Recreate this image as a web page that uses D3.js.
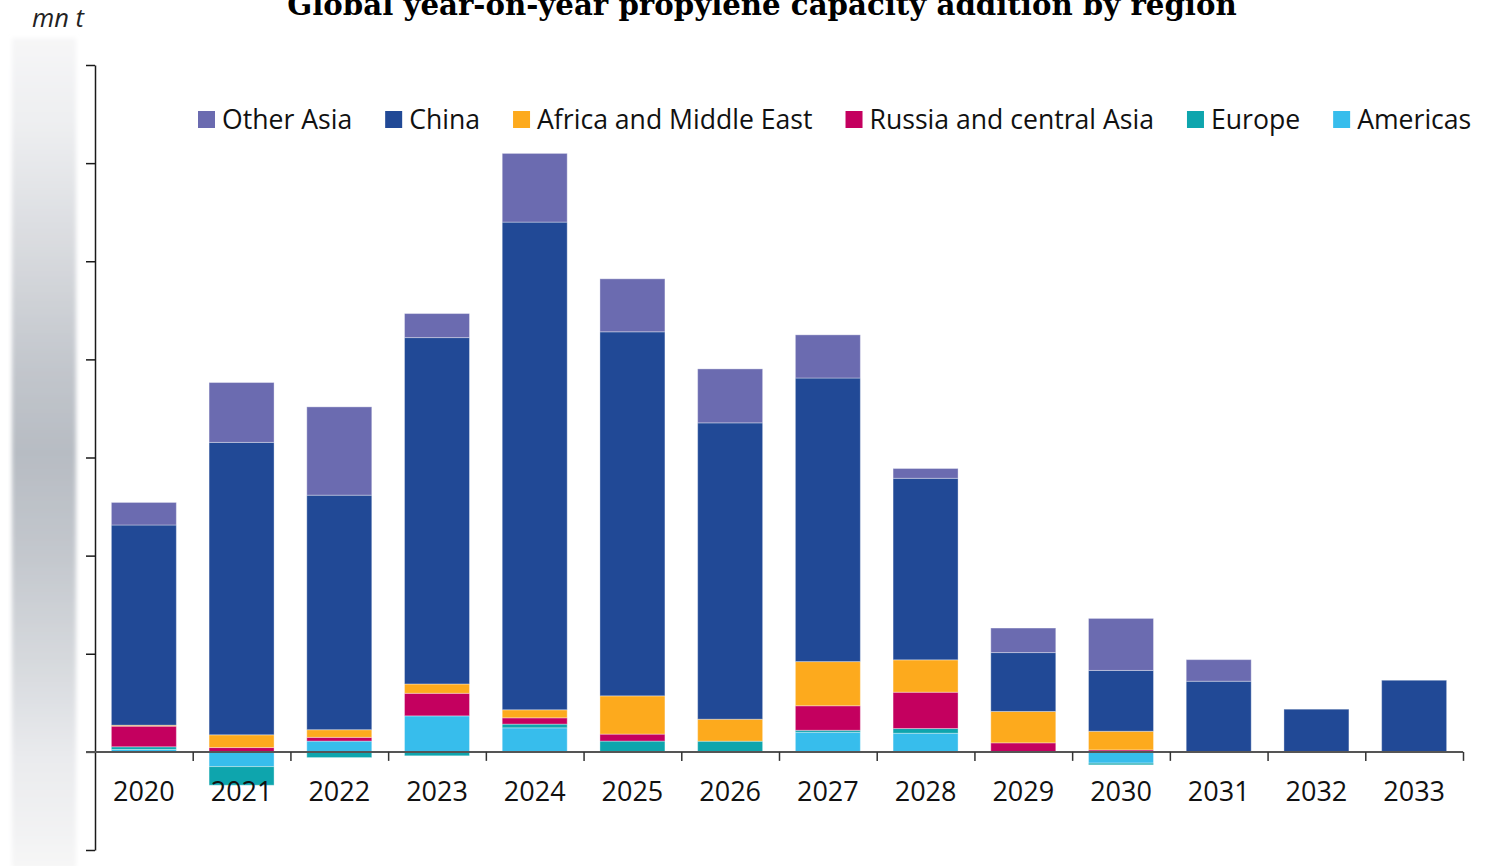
<!DOCTYPE html>
<html>
<head>
<meta charset="utf-8">
<script src="https://cdn.jsdelivr.net/npm/d3@7"></script>
<style>
  html, body { margin: 0; padding: 0; background: #fff; }
  svg { display: block; }
</style>
</head>
<body>
<svg id="chart" width="1496" height="866"></svg>
<script>
// Years on the category axis
const years = ["2020","2021","2022","2023","2024","2025","2026","2027","2028","2029","2030","2031","2032","2033"];

// Regions, stacked from the zero line outwards
const regions = ["Americas","Europe","Russia and central Asia","Africa and Middle East","China","Other Asia"];
// Legend reads in the opposite order
const legendOrder = ["Other Asia","China","Africa and Middle East","Russia and central Asia","Europe","Americas"];

// Year-on-year capacity additions, mn t
const americas   = [0.025, -0.15, 0.11, 0.367, 0.245, 0,     0,     0.20, 0.19,  0,     -0.115, 0,    0,     0];
const europe     = [0.027, -0.19, -0.058, -0.04, 0.038, 0.11, 0.109, 0.02, 0.048, 0,    -0.017, 0,    0,     0];
const russia     = [0.21,  0.044, 0.038, 0.23, 0.064, 0.071, 0,     0.25, 0.37,  0.092, 0.02,   0,    0,     0];
const africaME   = [0.01,  0.13,  0.078, 0.095, 0.082, 0.39, 0.224, 0.45, 0.33,  0.32,  0.19,   0,    0,     0];
const china      = [2.04,  2.98,  2.39,  3.53, 4.97,  3.71,  3.02,  2.89, 1.85,  0.60,  0.62,   0.72, 0.435, 0.73];
const otherAsia  = [0.23,  0.61,  0.90,  0.245, 0.70, 0.54,  0.55,  0.44, 0.10,  0.25,  0.53,   0.22, 0,     0];

// Value axis ticks, mn t
const yTicks = [-1, 0, 1, 2, 3, 4, 5, 6, 7];

const colors = {
  "Other Asia": "#6b6bb0",
  "China": "#214996",
  "Africa and Middle East": "#fdaa1d",
  "Russia and central Asia": "#c4005f",
  "Europe": "#0ea5ad",
  "Americas": "#37bdec"
};

const seriesValues = {
  "Americas": americas,
  "Europe": europe,
  "Russia and central Asia": russia,
  "Africa and Middle East": africaME,
  "China": china,
  "Other Asia": otherAsia
};

const table = years.map((yr, i) => {
  const row = { year: yr };
  regions.forEach(r => { row[r] = seriesValues[r][i]; });
  return row;
});

const svg = d3.select("#chart");
const fontSans = "'Open Sans', 'Noto Sans', sans-serif";

const x0 = 95, x1 = 1463;
const x = d3.scaleBand().domain(years).range([x0, x1]).paddingInner(0.335).paddingOuter(0.1675);
const y = d3.scaleLinear().domain([d3.min(yTicks), d3.max(yTicks)]).range([850, 65]);

// Shaded strip behind the value labels
const defs = svg.append("defs");
const grad = defs.append("linearGradient").attr("id", "stripGrad")
  .attr("x1", 0).attr("y1", 0).attr("x2", 0).attr("y2", 1);
[[0, "#f6f6f7"], [0.1, "#eeeff1"], [0.25, "#d9dbdf"], [0.4, "#c2c6cc"], [0.5, "#b7bcc3"],
 [0.62, "#c3c7cd"], [0.75, "#d6d9dd"], [0.87, "#eaebee"], [1, "#f6f6f6"]]
  .forEach(([o, c]) => grad.append("stop").attr("offset", o).attr("stop-color", c));
defs.append("filter").attr("id", "soft").attr("x", "-20%").attr("y", "-5%").attr("width", "140%").attr("height", "110%")
  .append("feGaussianBlur").attr("stdDeviation", 2);
svg.append("rect")
  .attr("x", 12).attr("y", 38).attr("width", 64).attr("height", 830)
  .attr("fill", "url(#stripGrad)").attr("filter", "url(#soft)");

// Title
const title = svg.append("text")
  .attr("x", 762).attr("y", 15)
  .attr("text-anchor", "middle")
  .attr("font-family", "'DejaVu Serif', 'Liberation Serif', serif")
  .attr("font-weight", "bold")
  .attr("font-size", 28)
  .attr("fill", "#000")
  .text("Global year-on-year propylene capacity addition by region");
const tw = title.node().getComputedTextLength();
title.attr("font-size", 28 * 950 / tw);

// Unit label
svg.append("text")
  .attr("x", 32).attr("y", 27)
  .attr("font-family", fontSans)
  .attr("font-style", "italic")
  .attr("font-size", 25.5)
  .attr("fill", "#222")
  .text("mn t");

// Stacked bars
const stack = d3.stack().keys(regions).offset(d3.stackOffsetDiverging);
const layers = stack(table);

svg.append("g").selectAll("g")
  .data(layers)
  .join("g")
  .attr("fill", d => colors[d.key])
  .selectAll("rect")
  .data(d => d)
  .join("rect")
  .attr("x", d => x(d.data.year))
  .attr("width", x.bandwidth())
  .attr("y", d => y(Math.max(d[0], d[1])))
  .attr("height", d => Math.abs(y(d[0]) - y(d[1])))
  .attr("stroke", "rgba(255,255,255,0.35)")
  .attr("stroke-width", d => Math.abs(y(d[0]) - y(d[1])) > 0.5 ? 1 : 0);

// Value axis: line with outward ticks, labels left off
const yAxis = svg.append("g")
  .attr("transform", `translate(${x0},0)`)
  .call(d3.axisLeft(y).tickValues(yTicks).tickSize(9).tickSizeOuter(0).tickFormat(""));
yAxis.select(".domain").attr("stroke", "#1a1a1a").attr("stroke-width", 1.5);
yAxis.selectAll(".tick line").attr("stroke", "#1a1a1a").attr("stroke-width", 1.5);

// Category axis at zero: boundary ticks between bars
const boundaries = d3.scaleLinear().domain([0, years.length]).range([x0, x1]);
const xAxis = svg.append("g")
  .attr("transform", `translate(0,${y(0)})`)
  .call(d3.axisBottom(boundaries).tickValues(d3.range(1, years.length + 1)).tickSize(9).tickSizeOuter(0).tickFormat(""));
xAxis.select(".domain").attr("d", `M${x0 - 9},0H${x1}`).attr("stroke", "#555").attr("stroke-width", 2);
xAxis.selectAll(".tick line").attr("stroke", "#333").attr("stroke-width", 1.5);

// Year labels
svg.append("g")
  .attr("transform", `translate(0,${y(0)})`)
  .call(d3.axisBottom(x).tickSize(0).tickPadding(0))
  .call(g => g.select(".domain").remove())
  .selectAll("text")
  .attr("y", 49)
  .attr("dy", 0)
  .attr("font-family", fontSans)
  .attr("font-size", 27)
  .attr("fill", "#111");

// Legend
const legend = svg.append("g");
let lx = 198;
legendOrder.forEach(name => {
  legend.append("rect")
    .attr("x", lx).attr("y", 111).attr("width", 17).attr("height", 17)
    .attr("fill", colors[name]);
  const t = legend.append("text")
    .attr("x", lx + 24).attr("y", 128.5)
    .attr("font-family", fontSans)
    .attr("font-size", 26.6)
    .attr("fill", "#111")
    .text(name);
  lx += 24 + t.node().getComputedTextLength() + 33;
});
</script>
</body>
</html>
